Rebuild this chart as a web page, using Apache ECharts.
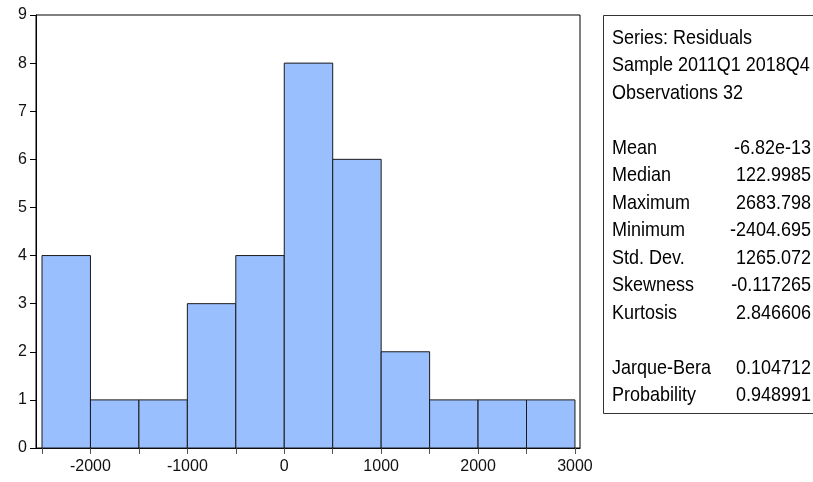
<!DOCTYPE html>
<html><head><meta charset="utf-8">
<script src="https://cdn.jsdelivr.net/npm/echarts@6/dist/echarts.min.js"></script>
<style>html,body{margin:0;padding:0;background:#fff}#c{width:813px;height:482px}</style>
</head><body><div id="c"></div>
<script>
// Histogram bins (lower edge, upper edge) and counts
const binStarts = [-2500,-2000,-1500,-1000,-500,0,500,1000,1500,2000,2500];
const binWidth = 500;
const counts = [4,1,1,3,4,8,6,2,1,1,1];
const xTicks = [-2500,-2000,-1500,-1000,-500,0,500,1000,1500,2000,2500,3000];
const xLabels = [-2000,-1000,0,1000,2000,3000];
const headerLines = ['Series: Residuals','Sample 2011Q1 2018Q4','Observations 32'];
const statNames = ['Mean','Median','Maximum','Minimum','Std. Dev.','Skewness','Kurtosis'];
const statValues = ['-6.82e-13','122.9985','2683.798','-2404.695','1265.072','-0.117265','2.846606'];
const testNames = ['Jarque-Bera','Probability'];
const testValues = ['0.104712','0.948991'];

const FONT = '"Liberation Sans", Arial, sans-serif';
const data = binStarts.map((s,i)=>[s, s+binWidth, counts[i]]);

const chart = echarts.init(document.getElementById('c'), null, {renderer:'canvas'});

const lineH = 27.5, x0 = 612, xr = 811, y0 = 38, FS = 21, SX = 0.857;
const texts = [];
function addLine(row, left, right){
  const y = y0 + row*lineH;
  texts.push({type:'text', x:x0, y:y, scaleX:SX, style:{text:left, font:FS+'px '+FONT, fill:'#000', textAlign:'left', textVerticalAlign:'middle'}});
  if(right!==undefined){
    texts.push({type:'text', x:xr, y:y, scaleX:SX, style:{text:right, font:FS+'px '+FONT, fill:'#000', textAlign:'right', textVerticalAlign:'middle'}});
  }
}
headerLines.forEach((t,i)=>addLine(i,t));
statNames.forEach((t,i)=>addLine(4+i,t,statValues[i]));
testNames.forEach((t,i)=>addLine(12+i,t,testValues[i]));

chart.setOption({
  animation:false,
  backgroundColor:'#fff',
  grid:{left:36, top:15, right:233, bottom:34, show:true, borderColor:'#000', borderWidth:1, containLabel:false},
  xAxis:{
    type:'value', min:-2562, max:3052,
    axisLine:{show:true, onZero:false, lineStyle:{color:'#000', width:1}},
    axisTick:{show:true, customValues:xTicks, length:6, inside:false, lineStyle:{color:'#555'}},
    axisLabel:{show:true, customValues:xLabels, formatter:function(v){return String(v);}, color:'#111', fontSize:16, fontFamily:FONT, margin:11},
    splitLine:{show:false}
  },
  yAxis:{
    type:'value', min:0, max:9, interval:1,
    axisLine:{show:true, onZero:false, lineStyle:{color:'#000', width:1}},
    axisTick:{show:true, length:6, lineStyle:{color:'#000'}},
    axisLabel:{color:'#111', fontSize:16, fontFamily:FONT, margin:9},
    splitLine:{show:false}
  },
  series:[{
    type:'custom',
    data:data,
    encode:{x:[0,1], y:2},
    renderItem:function(params, api){
      const a = api.coord([api.value(0), api.value(2)]);
      const b = api.coord([api.value(1), 0]);
      return {type:'rect', shape:{x:a[0], y:a[1], width:b[0]-a[0], height:b[1]-a[1]},
        style:{fill:'#99bfff', stroke:'#1a1a1a', lineWidth:1}};
    }
  }],
  graphic:[
    {type:'rect', shape:{x:603.5, y:15.5, width:230, height:398}, style:{fill:'#fff', stroke:'#333', lineWidth:1}, z:0},
    ...texts
  ]
});
</script></body></html>
